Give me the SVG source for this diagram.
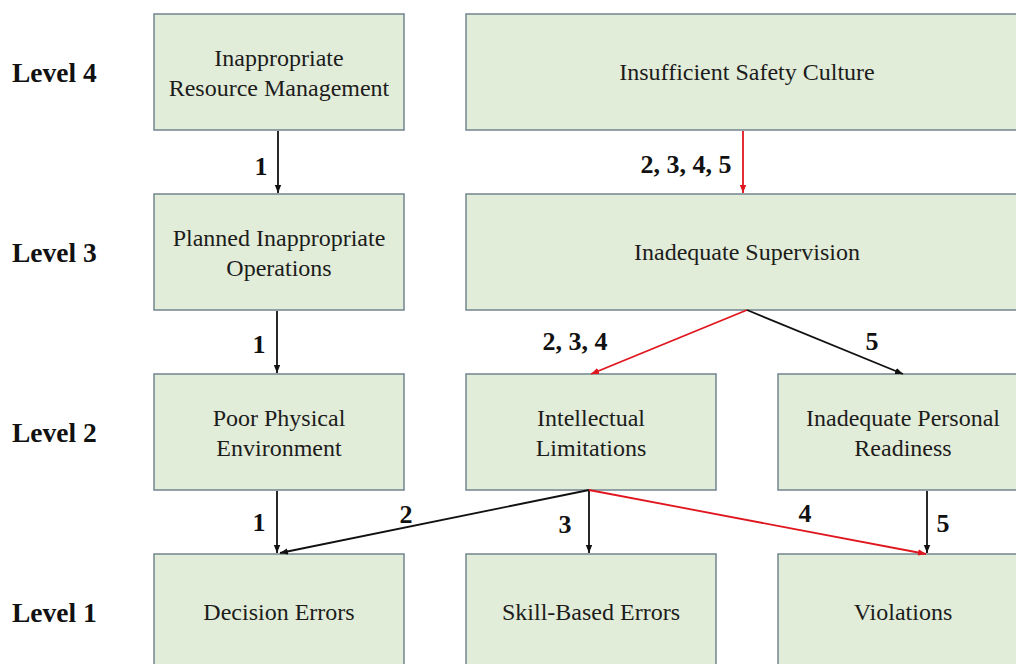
<svg xmlns="http://www.w3.org/2000/svg" width="1016" height="664" viewBox="0 0 1016 664">
<defs>
<style>
.box{fill:#E2EDD9;stroke:#71858F;stroke-width:1.5}
.t{font-family:"Liberation Serif","Times New Roman",serif;font-size:24px;fill:#1c1c1c;text-anchor:middle}
.lv{font-family:"Liberation Serif","Times New Roman",serif;font-size:27.5px;font-weight:bold;fill:#111}
.n{font-family:"Liberation Serif","Times New Roman",serif;font-size:26px;font-weight:bold;fill:#111;text-anchor:middle}
.k{stroke:#111;stroke-width:1.8;fill:none}
.r{stroke:#E0161E;stroke-width:1.8;fill:none}
</style>
<marker id="ak" viewBox="0 0 10 10" refX="10" refY="5" markerWidth="8" markerHeight="8" markerUnits="userSpaceOnUse" orient="auto"><path d="M0,1 L10,5 L0,9 z" fill="#111"/></marker>
<marker id="ar" viewBox="0 0 10 10" refX="10" refY="5" markerWidth="8" markerHeight="8" markerUnits="userSpaceOnUse" orient="auto"><path d="M0,1 L10,5 L0,9 z" fill="#E0161E"/></marker>
</defs>
<rect width="1016" height="664" fill="#fff"/>
<g id="levels">
<text class="lv" x="12" y="82">Level 4</text>
<text class="lv" x="12" y="262">Level 3</text>
<text class="lv" x="12" y="442">Level 2</text>
<text class="lv" x="12" y="622">Level 1</text>
</g>
<g id="n_irm"><rect class="box" x="154" y="14" width="250" height="116"/><text class="t" x="279" y="66">Inappropriate</text><text class="t" x="279" y="96">Resource Management</text></g>
<g id="n_isc"><rect class="box" x="466" y="14" width="562" height="116"/><text class="t" x="747" y="80">Insufficient Safety Culture</text></g>
<g id="n_pio"><rect class="box" x="154" y="194" width="250" height="116"/><text class="t" x="279" y="246">Planned Inappropriate</text><text class="t" x="279" y="276">Operations</text></g>
<g id="n_is"><rect class="box" x="466" y="194" width="562" height="116"/><text class="t" x="747" y="260">Inadequate Supervision</text></g>
<g id="n_ppe"><rect class="box" x="154" y="374" width="250" height="116"/><text class="t" x="279" y="426">Poor Physical</text><text class="t" x="279" y="456">Environment</text></g>
<g id="n_il"><rect class="box" x="466" y="374" width="250" height="116"/><text class="t" x="591" y="426">Intellectual</text><text class="t" x="591" y="456">Limitations</text></g>
<g id="n_ipr"><rect class="box" x="778" y="374" width="250" height="116"/><text class="t" x="903" y="426">Inadequate Personal</text><text class="t" x="903" y="456">Readiness</text></g>
<g id="n_de"><rect class="box" x="154" y="554" width="250" height="116"/><text class="t" x="279" y="620">Decision Errors</text></g>
<g id="n_sbe"><rect class="box" x="466" y="554" width="250" height="116"/><text class="t" x="591" y="620">Skill-Based Errors</text></g>
<g id="n_v"><rect class="box" x="778" y="554" width="250" height="116"/><text class="t" x="903" y="620">Violations</text></g>
<g id="connectors">
<line class="k" x1="278" y1="131" x2="278" y2="193" marker-end="url(#ak)"/>
<line class="r" x1="743" y1="131" x2="743" y2="193" marker-end="url(#ar)"/>
<line class="k" x1="277" y1="311" x2="277" y2="373" marker-end="url(#ak)"/>
<line class="r" x1="747" y1="310" x2="591" y2="374" marker-end="url(#ar)"/>
<line class="k" x1="747" y1="310" x2="903" y2="374" marker-end="url(#ak)"/>
<line class="k" x1="277" y1="491" x2="277" y2="553" marker-end="url(#ak)"/>
<line class="k" x1="589" y1="490" x2="280" y2="553" marker-end="url(#ak)"/>
<line class="k" x1="589" y1="491" x2="589" y2="553" marker-end="url(#ak)"/>
<line class="r" x1="589" y1="490" x2="926" y2="554" marker-end="url(#ar)"/>
<line class="k" x1="927" y1="491" x2="927" y2="553" marker-end="url(#ak)"/>
</g>
<g id="labels">
<text class="n" x="261" y="175">1</text>
<text class="n" x="686" y="173">2, 3, 4, 5</text>
<text class="n" x="259" y="353">1</text>
<text class="n" x="575" y="350">2, 3, 4</text>
<text class="n" x="872" y="350">5</text>
<text class="n" x="259" y="531">1</text>
<text class="n" x="406" y="523">2</text>
<text class="n" x="565" y="533">3</text>
<text class="n" x="805" y="522">4</text>
<text class="n" x="943" y="532">5</text>
</g>
</svg>
